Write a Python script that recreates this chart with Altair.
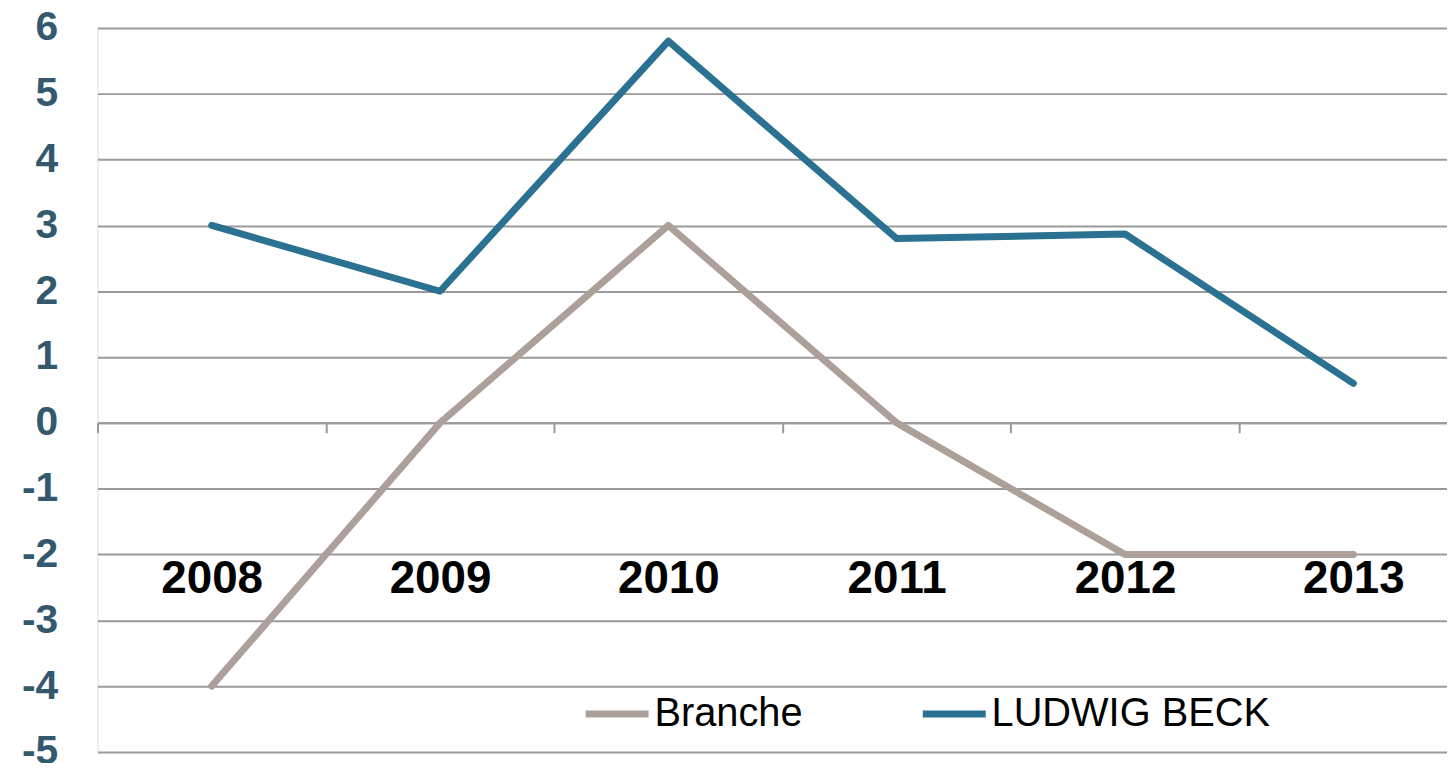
import json
import altair as alt
import pandas as pd

years = ["2008", "2009", "2010", "2011", "2012", "2013"]
branche = [-4, 0, 3, 0, -2, -2]
ludwig = [3, 2, 5.8, 2.8, 2.87, 0.6]
series_names = ["Branche", "LUDWIG BECK"]
series_colors = ["#ADA09A", "#2B7191"]

rows = []
for name, vals in zip(series_names, [branche, ludwig]):
    for i, (yr, v) in enumerate(zip(years, vals)):
        rows.append({"idx": i, "year": yr, "value": v, "series": name})
df = pd.DataFrame(rows)

boundaries = [i - 0.5 for i in range(len(years))]
centers = list(range(len(years)))
label_expr = "datum.value % 1 === 0 ? " + json.dumps(years) + "[datum.value] : ''"

FONT = "Liberation Sans"

chart = alt.Chart(df).mark_line(strokeWidth=7, strokeCap="round", strokeJoin="round").encode(
    x=alt.X(
        "idx:Q",
        scale=alt.Scale(domain=[-0.5, 5.41], nice=False, zero=False),
        axis=alt.Axis(
            title=None,
            orient="bottom",
            offset=-331,
            values=boundaries + centers,
            grid=False,
            domain=True,
            domainColor="#9A9A9A",
            domainWidth=2,
            ticks=True,
            tickColor="#9A9A9A",
            tickWidth=2,
            tickSize=10,
            tickOpacity={"condition": {"test": "datum.value % 1 !== 0", "value": 1}, "value": 0},
            labelExpr=label_expr,
            labelFont=FONT,
            labelFontSize=46,
            labelFontWeight="bold",
            labelColor="#000000",
            labelPadding=125,
            labelFlush=False,
            labelOverlap=False,
        ),
    ),
    y=alt.Y(
        "value:Q",
        scale=alt.Scale(domain=[-5, 6], nice=False, zero=False),
        axis=alt.Axis(
            title=None,
            values=list(range(-5, 7)),
            grid=True,
            gridColor="#9A9A9A",
            gridWidth=2,
            domain=False,
            ticks=False,
            labelExpr="toString(datum.value)",
            labelFont=FONT,
            labelFontSize=41,
            labelFontWeight="bold",
            labelColor="#34596E",
            labelPadding=40,
        ),
    ),
    color=alt.Color(
        "series:N",
        scale=alt.Scale(domain=series_names, range=series_colors),
        legend=alt.Legend(
            title=None,
            orient="none",
            legendX=487,
            legendY=654,
            direction="horizontal",
            symbolType="stroke",
            symbolStrokeWidth=7,
            symbolSize=4000,
            labelFont=FONT,
            labelFontSize=40,
            labelColor="#000000",
            labelOffset=2,
            columnPadding=106,
            labelLimit=0,
        ),
    ),
    order=alt.Order("idx:Q"),
).properties(
    width=1357,
    height=728,
    autosize=alt.AutoSizeParams(type="none"),
    padding={"left": 90, "top": 18, "right": 0, "bottom": 9},
).configure_view(stroke=None).configure(background="white")

chart.save("out.html", embed_options={"renderer": "svg", "actions": False})
